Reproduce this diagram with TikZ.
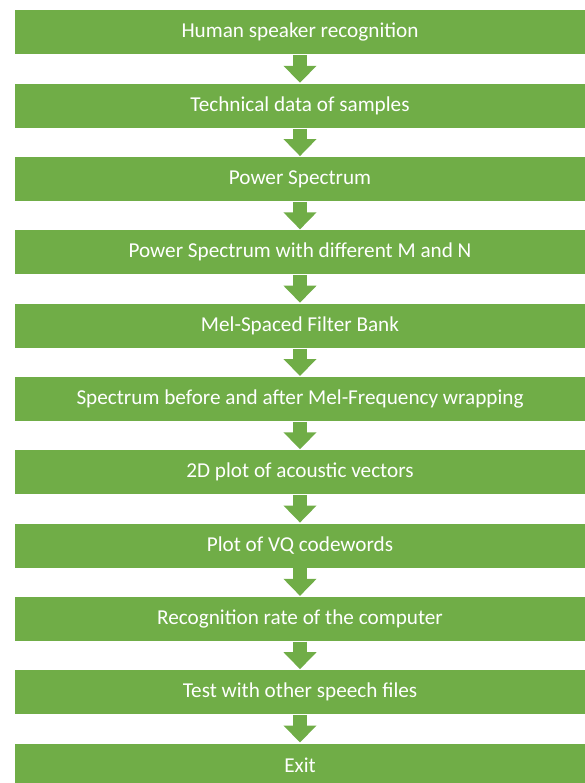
\documentclass[tikz,border=0pt]{standalone}
\usepackage{fontspec}
\setmainfont{Carlito}
\usetikzlibrary{arrows.meta}
\definecolor{boxgreen}{HTML}{70AD47}
\tikzset{
  stepbox/.style={rectangle, fill=boxgreen, draw=white, line width=0.8pt,
    minimum width=572pt, minimum height=45pt, inner sep=0pt, anchor=north,
    text=white, font=\fontsize{21.2}{25}\selectfont},
  flowarrow/.style={draw=boxgreen, line width=13.5pt,
    -{Triangle[width=32pt,length=17pt,sharp]}, shorten >=0pt}
}
\begin{document}
\begin{tikzpicture}[x=1pt,y=-1pt]
\useasboundingbox (0,0) rectangle (585,783);
\begin{scope}
\clip (0,0) rectangle (585,783);
\node[stepbox] (n0) at (300,9.5) {Human speaker recognition};
\node[stepbox] (n1) at (300,82.8) {Technical data of samples};
\node[stepbox] (n2) at (300,156.1) {Power Spectrum};
\node[stepbox] (n3) at (300,229.4) {Power Spectrum with different M and N};
\node[stepbox] (n4) at (300,302.7) {Mel-Spaced Filter Bank};
\node[stepbox] (n5) at (300,376.0) {Spectrum before and after Mel-Frequency wrapping};
\node[stepbox] (n6) at (300,449.3) {2D plot of acoustic vectors};
\node[stepbox] (n7) at (300,522.6) {Plot of VQ codewords};
\node[stepbox] (n8) at (300,595.9) {Recognition rate of the computer};
\node[stepbox] (n9) at (300,669.2) {Test with other speech files};
\node[stepbox] (n10) at (300,742.5) {Exit};
\foreach \a/\b in {n0/n1,n1/n2,n2/n3,n3/n4,n4/n5,n5/n6,n6/n7,n7/n8,n8/n9,n9/n10}
  \draw[flowarrow] (\a.south) -- (\b.north);
\end{scope}
\end{tikzpicture}
\end{document}
